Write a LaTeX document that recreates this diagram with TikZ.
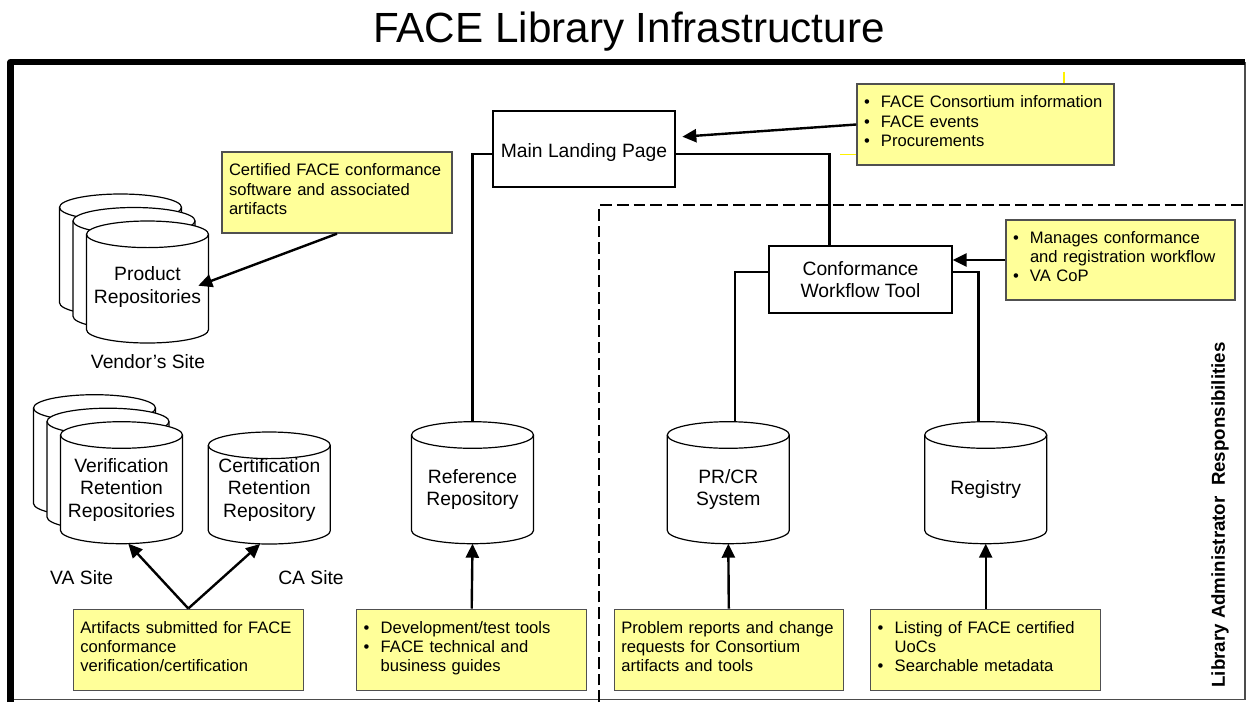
\documentclass[tikz,border=0pt]{standalone}
\usepackage{fontspec}
\setmainfont{Liberation Sans}
\usetikzlibrary{arrows.meta}
\definecolor{noteyellow}{HTML}{FFFF99}
\definecolor{noteline}{HTML}{505050}
\newcommand\notesize{\fontsize{8.3pt}{9.6pt}\selectfont}
\newcommand\boxsize{\fontsize{9.65pt}{11.25pt}\selectfont}
\newcommand\bul{\makebox[8.5pt][l]{\textbullet}}
\newcommand\nobul{\hspace*{8.5pt}}
\tikzset{
  conn/.style={line width=1.2pt},
  arr/.style={conn,-{Triangle[length=7pt,width=6.5pt]}},
  note/.style={draw=noteline,line width=0.7pt,fill=noteyellow,inner xsep=3.5pt,inner ysep=0pt,
    text width=108pt,minimum height=40.5pt,align=left,font=\notesize,
    execute at end node={\rule[-3.5pt]{0pt}{0pt}}},
  plainbox/.style={draw,line width=0.65pt,fill=white,align=center,font=\boxsize},
  drumline/.style={line width=0.6pt},
  label/.style={font=\boxsize},
  dashline/.style={line width=1pt,dash pattern=on 5.8pt off 2.5pt}
}
% cylinder outline: centre x, top y, height
\newcommand\drumshape[3]{%
  \filldraw[drumline,fill=white](#1-61,#2+13.3)--(#1-61,#2+#3-13.3)
    arc[start angle=180,end angle=0,x radius=61,y radius=13.3]--(#1+61,#2+13.3)
    arc[start angle=0,end angle=-180,x radius=61,y radius=13.3]--cycle;
  \draw[drumline](#1-61,#2+13.3)arc[start angle=180,end angle=0,x radius=61,y radius=13.3];}
% named cylinder: name, centre x, top y, height, text y, text
\newcommand\drum[6]{%
  \drumshape{#2}{#3}{#4}
  \coordinate (#1-top) at (#2,#3);
  \coordinate (#1-bot) at (#2,#3+#4);
  \node[label,align=center] (#1) at (#2,#5) {#6};}
\begin{document}
\begin{tikzpicture}[x=0.5pt,y=-0.5pt]
\pgfmathsetmacro{\kst}{13.5}
\useasboundingbox (0,0) rectangle (1247,702);
% frame
\draw[line width=0.6pt,black!70](1245,62)--(1245,699.5)--(10.7,699.5);
\draw[line width=3.3pt,line join=round](10.7,702)--(10.7,62)--(1245,62);
\node[font=\fontsize{21.1pt}{25pt}\selectfont,anchor=base] (title) at (629,42) {FACE Library Infrastructure};
% library administrator area
\draw[dashline](599.3,702)--(599.3,205)--(1246,205);
\node[rotate=90,font=\bfseries\fontsize{9.35pt}{11pt}\selectfont] (lar) at (1220,515) {Library Administrator\ \ Responsibilities};
% stray yellow strokes
\draw[yellow,line width=0.6pt](1064,71.7)--(1064,84);
\draw[yellow,line width=0.6pt](840,154.3)--(857,154.3);
% boxes
\node[plainbox,minimum width=91pt,minimum height=38pt,text height=10.7pt] (mlp) at (584,149) {Main Landing Page};
\node[plainbox,minimum width=91.5pt,minimum height=33.5pt] (cwt) at (860.5,279.5) {Conformance\\Workflow Tool};
% repositories
\foreach \k in {2,1}{\drumshape{147.5-\kst*\k}{221-\kst*\k}{122}}
\drum{prod}{147.5}{221}{122}{287}{Product\\Repositories}
\foreach \k in {2,1}{\drumshape{121.5-\kst*\k}{421.7-\kst*\k}{122}}
\drum{vrr}{121.5}{421.7}{122}{490}{Verification\\Retention\\Repositories}
\drum{crr}{269.3}{432}{112}{490}{Certification\\Retention\\Repository}
\drum{ref}{472.5}{421.7}{122}{489.5}{Reference\\Repository}
\drum{prcr}{728.3}{421.7}{122}{489.5}{PR/CR\\System}
\drum{reg}{985.7}{421.7}{122}{489.5}{Registry}
\node[label] (vendor) at (148,361.7) {Vendor's Site};
\node[label] (vasite) at (81.7,577.3) {VA Site};
\node[label] (casite) at (311,577.3) {CA Site};
% notes
\node[note,text width=121.5pt] (cons) at (985.5,124.5) {\bul FACE Consortium information\\\bul FACE events\\\bul Procurements};
\node[note,text width=107.5pt,minimum height=40pt] (mgmt) at (1120.5,260) {\bul Manages conformance\\\nobul and registration workflow\\\bul VA CoP};
\node[note] (certnote) at (337,192.5) {Certified FACE conformance\\software and associated\\artifacts};
\node[note] (artnote) at (188.3,649.7) {Artifacts submitted for FACE\\conformance\\verification/certification};
\node[note] (devnote) at (471.7,649.7) {\bul Development/test tools\\\bul FACE technical and\\\nobul business guides};
\node[note,text width=107.5pt] (probnote) at (728.8,649.7) {Problem reports and change\\requests for Consortium\\artifacts and tools};
\node[note] (listnote) at (985.7,649.7) {\bul Listing of FACE certified\\\nobul UoCs\\\bul Searchable metadata};
% connectors
\draw[conn]([yshift=-2.5pt]mlp.west)-|(ref-top);
\draw[conn]([yshift=-2.5pt]mlp.east)-|([xshift=-15.6pt]cwt.north);
\draw[conn]([yshift=3.75pt]cwt.west)-|([xshift=3.35pt]prcr-top);
\draw[conn]([yshift=3.75pt]cwt.east)-|([xshift=-3.7pt]reg-top);
\draw[arr](cons.west)--([shift={(6.7,-12.3)}]mlp.east);
\draw[arr](mgmt.west)--(mgmt.west-|cwt.east);
\draw[arr](certnote.south)--([shift={(50.8,-1.3)}]prod.center);
\draw[arr](artnote.north)--([xshift=3.4pt]vrr-bot);
\draw[arr](artnote.north)--([xshift=-4.6pt]crr-bot);
\foreach \a/\b in {devnote/ref,probnote/prcr,listnote/reg}{\draw[arr](\a.north)--(\b-bot);}
\end{tikzpicture}
\end{document}
